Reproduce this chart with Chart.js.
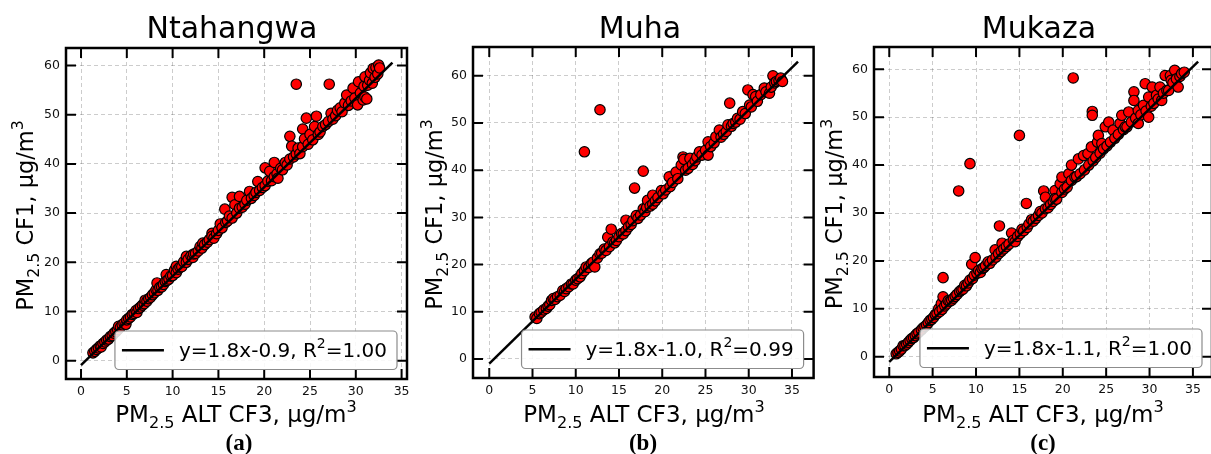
<!DOCTYPE html>
<html><head><meta charset="utf-8">
<script src="https://cdn.jsdelivr.net/npm/chart.js@4.4.1/dist/chart.umd.min.js"></script>
<style>
html,body{margin:0;padding:0;background:#fff;overflow:hidden;width:1211px;height:454px;position:relative;}
canvas{position:absolute;top:0;}
</style></head><body>
<canvas id="cA" width="420" height="454" style="left:0px"></canvas>
<canvas id="cB" width="400" height="454" style="left:420px"></canvas>
<canvas id="cC" width="410" height="454" style="left:820px"></canvas>
<script>
// ---------- data ----------
const siteNames = ['Ntahangwa', 'Muha', 'Mukaza'];
const panelLetters = ['(a)', '(b)', '(c)'];
const xTicks = [0, 5, 10, 15, 20, 25, 30, 35];
const yTicks = [0, 10, 20, 30, 40, 50, 60];
const fitEquations = ['y=1.8x-0.9', 'y=1.8x-1.0', 'y=1.8x-1.1'];
const fitR2 = ['1.00', '0.99', '1.00'];

const ntaPts = [[1.3,1.6],[1.5,1.9],[1.7,2.3],[1.9,2.6],[2.1,3.0],[2.2,2.8],[2.4,3.5],[2.6,3.8],[2.8,4.2],[3.0,4.4],[3.2,4.9],[3.4,5.1],[3.6,5.6],[3.8,5.9],[4.0,6.3],[4.1,7.0],[4.3,6.8],[4.5,7.3],[4.7,7.6],[4.9,7.4],[5.0,8.3],[5.2,8.6],[5.4,8.9],[5.6,9.4],[5.8,9.6],[6.0,10.2],[6.1,9.8],[6.3,10.6],[6.5,10.9],[6.7,11.3],[6.9,11.6],[7.0,12.3],[7.2,12.1],[7.4,12.6],[7.6,12.9],[7.8,13.4],[8.0,13.8],[8.2,14.4],[8.3,15.8],[8.4,14.3],[8.6,14.9],[8.8,15.0],[9.0,15.5],[9.2,16.1],[9.3,17.5],[9.4,16.3],[9.6,16.6],[9.8,17.2],[10.0,17.3],[10.2,18.4],[10.4,19.2],[10.4,17.9],[10.6,18.6],[10.8,19.0],[11.0,19.1],[11.2,20.1],[11.5,21.2],[11.5,20.0],[11.7,20.6],[12.0,21.3],[12.2,21.0],[12.3,21.7],[12.5,21.8],[12.8,22.3],[13.0,23.2],[13.2,22.9],[13.3,23.9],[13.5,23.6],[13.8,24.1],[14.0,24.6],[14.3,25.9],[14.3,25.3],[14.5,24.9],[14.8,25.8],[15.0,26.5],[15.2,27.8],[15.4,27.0],[15.7,30.8],[15.8,28.1],[16.0,28.4],[16.2,29.4],[16.5,33.2],[16.5,29.0],[16.8,31.7],[17.0,30.0],[17.3,33.4],[17.3,31.0],[17.6,31.2],[17.9,31.8],[18.1,32.6],[18.4,34.4],[18.6,33.0],[18.9,33.6],[19.1,34.2],[19.3,36.4],[19.5,34.6],[19.8,35.2],[20.1,39.2],[20.1,35.6],[20.4,36.5],[20.6,38.5],[20.8,36.6],[21.1,40.3],[21.1,37.4],[21.4,38.0],[21.5,37.1],[21.8,39.1],[22.0,38.8],[22.3,40.3],[22.5,39.8],[22.8,45.6],[22.8,41.0],[23.0,43.6],[23.2,41.4],[23.5,56.2],[23.5,42.0],[23.7,43.2],[23.9,42.1],[24.2,47.1],[24.2,43.5],[24.4,45.1],[24.6,49.3],[24.8,44.0],[25.0,46.0],[25.3,44.9],[25.5,47.6],[25.7,49.7],[25.9,46.0],[26.1,46.5],[26.4,47.6],[26.7,48.0],[27.0,48.6],[27.1,56.2],[27.3,50.3],[27.5,49.1],[27.8,49.8],[28.0,50.9],[28.3,51.4],[28.5,50.6],[28.8,52.4],[29.0,54.0],[29.2,51.9],[29.5,52.8],[29.7,55.4],[29.9,53.4],[30.2,52.0],[30.3,56.7],[30.5,54.4],[30.8,53.0],[30.9,55.8],[31.0,57.7],[31.0,53.6],[31.2,53.2],[31.3,56.0],[31.5,57.0],[31.6,58.5],[31.8,56.4],[31.9,59.4],[32.1,57.6],[32.2,59.6],[32.4,58.3],[32.5,60.1],[32.6,59.5]];

const muhaPts = [[5.3,8.9],[5.5,8.6],[5.8,9.6],[6.0,9.9],[6.3,10.4],[6.6,10.7],[6.8,11.2],[7.0,11.5],[7.2,12.4],[7.4,12.8],[7.6,12.6],[7.9,13.2],[8.2,13.5],[8.5,14.5],[8.7,14.3],[8.9,14.9],[9.2,15.3],[9.5,15.9],[9.7,15.9],[10.0,16.7],[10.2,17.0],[10.5,17.4],[10.7,18.1],[11.0,43.9],[11.0,18.7],[11.2,19.5],[11.5,19.4],[11.8,20.2],[12.0,20.5],[12.2,19.5],[12.5,21.4],[12.8,52.8],[12.8,22.3],[13.0,22.4],[13.3,23.3],[13.5,23.0],[13.7,25.8],[13.9,23.8],[14.1,27.5],[14.3,24.8],[14.5,24.6],[14.7,25.1],[15.0,25.9],[15.3,26.6],[15.5,26.5],[15.8,27.2],[15.8,29.4],[16.1,28.0],[16.4,28.5],[16.6,29.3],[16.8,36.2],[17.0,30.4],[17.2,29.8],[17.5,30.5],[17.8,39.8],[17.8,31.8],[18.0,31.2],[18.2,32.1],[18.3,33.6],[18.6,32.4],[18.9,34.7],[18.9,32.8],[19.2,33.5],[19.5,34.2],[19.9,35.7],[20.1,35.0],[20.4,35.8],[20.8,38.6],[20.9,36.5],[21.2,37.4],[21.6,39.6],[21.8,38.2],[22.2,41.1],[22.4,42.8],[22.5,42.3],[22.7,40.0],[23.0,40.4],[23.2,42.5],[23.5,41.2],[23.8,42.0],[24.0,42.8],[24.3,43.9],[24.6,43.2],[25.0,44.2],[25.3,46.0],[25.3,43.2],[25.6,45.0],[26.0,45.8],[26.2,47.1],[26.6,48.5],[26.8,47.0],[27.1,47.6],[27.4,48.2],[27.6,49.6],[27.8,54.2],[28.0,49.3],[28.2,49.9],[28.5,50.2],[28.7,51.0],[29.0,50.8],[29.3,52.4],[29.6,52.0],[29.9,57.0],[30.1,53.8],[30.3,53.4],[30.5,56.0],[30.8,55.6],[31.0,54.6],[31.4,56.0],[31.8,57.4],[32.0,56.6],[32.4,56.3],[32.6,57.6],[32.8,60.0],[33.0,58.5],[33.2,58.8],[33.5,59.0],[33.7,59.5],[33.9,58.8]];

const mukPts = [[0.8,0.6],[1.0,0.9],[1.2,1.2],[1.4,1.6],[1.6,2.3],[1.8,2.3],[2.0,2.6],[2.2,3.0],[2.4,3.4],[2.6,3.8],[2.8,4.0],[3.0,4.4],[3.2,4.8],[3.4,5.1],[3.7,5.6],[3.9,6.0],[4.1,6.3],[4.3,6.6],[4.5,7.1],[4.7,7.6],[4.9,7.8],[5.1,8.2],[5.3,8.8],[5.5,9.0],[5.7,10.0],[5.8,9.4],[6.0,11.1],[6.1,9.9],[6.2,12.5],[6.2,16.5],[6.4,10.6],[6.6,11.0],[6.8,11.7],[7.0,11.6],[7.2,11.8],[7.4,12.2],[7.6,12.6],[7.8,13.0],[8.0,34.6],[8.1,13.6],[8.3,13.9],[8.5,14.1],[8.7,14.9],[8.9,14.8],[9.1,15.4],[9.3,40.3],[9.3,16.0],[9.5,19.3],[9.6,16.3],[9.8,17.0],[9.9,20.7],[10.1,17.4],[10.3,18.0],[10.5,17.6],[10.7,18.4],[10.9,18.6],[11.1,19.0],[11.4,19.8],[11.6,19.5],[11.9,20.2],[12.2,22.3],[12.3,20.8],[12.6,21.5],[12.7,27.3],[12.9,22.0],[13.0,23.7],[13.2,22.5],[13.5,23.0],[13.8,23.5],[14.1,25.8],[14.3,24.3],[14.5,24.0],[14.8,25.1],[15.0,46.2],[15.1,25.7],[15.3,26.6],[15.5,26.3],[15.8,32.0],[15.9,27.0],[16.1,27.7],[16.4,28.6],[16.6,28.3],[16.9,28.9],[17.2,29.5],[17.4,30.3],[17.6,30.0],[17.8,34.6],[18.0,33.3],[18.0,30.9],[18.3,31.1],[18.6,31.8],[18.9,32.4],[19.1,34.7],[19.1,33.0],[19.3,32.9],[19.7,36.1],[19.9,37.5],[19.9,34.3],[20.2,35.0],[20.5,35.4],[20.7,38.2],[21.0,40.0],[21.0,36.8],[21.2,58.2],[21.4,37.5],[21.6,37.6],[21.8,41.3],[22.0,38.2],[22.4,42.0],[22.5,39.0],[22.9,42.4],[23.0,40.0],[23.3,43.8],[23.4,51.2],[23.4,50.4],[23.5,40.9],[23.8,41.6],[24.0,44.8],[24.1,46.2],[24.3,42.5],[24.5,44.5],[24.7,43.4],[24.9,48.0],[25.1,44.0],[25.3,49.0],[25.5,44.8],[25.8,47.3],[26.0,45.6],[26.4,46.4],[26.6,48.7],[26.8,50.4],[27.0,47.4],[27.2,48.0],[27.4,48.0],[27.6,51.1],[27.9,49.0],[28.2,55.3],[28.2,53.5],[28.4,49.8],[28.7,51.4],[28.7,48.7],[29.0,50.5],[29.3,52.5],[29.5,57.0],[29.6,51.3],[29.9,54.2],[29.9,50.0],[30.2,52.3],[30.3,56.3],[30.5,52.9],[30.8,54.6],[31.0,53.8],[31.2,56.3],[31.4,53.5],[31.6,55.0],[31.8,58.7],[32.0,55.6],[32.2,55.6],[32.4,58.7],[32.5,57.7],[32.7,57.2],[32.9,59.8],[33.1,58.0],[33.3,56.3],[33.5,58.5],[33.7,59.1],[34.0,59.4]];

const ntaLine = [[0, -0.9], [34.0, 60.6]];
const muhaLine = [[0, -1.0], [35.7, 63.0]];
const mukLine = [[0, -1.1], [35.6, 61.6]];

// ---------- drawing ----------
const FONT = '"DejaVu Sans", sans-serif';
function richWidth(ctx, parts, size) {
  let w = 0;
  for (const p of parts) { ctx.font = (p.k === 'n' ? size : size * 0.7) + 'px ' + FONT; w += ctx.measureText(p.t).width; }
  return w;
}
function drawRich(ctx, parts, x, y, size, align) {
  const w = richWidth(ctx, parts, size);
  let cx = align === 'center' ? x - w / 2 : x;
  ctx.textAlign = 'left'; ctx.textBaseline = 'alphabetic';
  for (const p of parts) {
    const s = p.k === 'n' ? size : size * 0.7;
    const dy = p.k === 'sub' ? size * 0.27 : (p.k === 'sup' ? -size * 0.43 : 0);
    ctx.font = s + 'px ' + FONT;
    ctx.fillText(p.t, cx, y + dy);
    cx += ctx.measureText(p.t).width;
  }
  return w;
}
const xLabelParts = [{t:'PM',k:'n'},{t:'2.5',k:'sub'},{t:' ALT CF3, µg/m',k:'n'},{t:'3',k:'sup'}];
const yLabelParts = [{t:'PM',k:'n'},{t:'2.5',k:'sub'},{t:' CF1, µg/m',k:'n'},{t:'3',k:'sup'}];

function makePanel(canvasId, idx, pts, linePts, g) {
  const TL = 10;
  const deco = {
    id: 'deco' + idx,
    afterDraw(chart) {
      const ctx = chart.ctx, a = chart.chartArea, xs = chart.scales.x, ys = chart.scales.y;
      ctx.save();
      // inward ticks on all four sides
      ctx.strokeStyle = '#000'; ctx.lineWidth = 2; ctx.lineCap = 'butt';
      ctx.beginPath();
      for (const v of xTicks) {
        const px = xs.getPixelForValue(v);
        ctx.moveTo(px, a.top); ctx.lineTo(px, a.top + TL);
        ctx.moveTo(px, a.bottom); ctx.lineTo(px, a.bottom - TL);
      }
      for (const v of yTicks) {
        const py = ys.getPixelForValue(v);
        ctx.moveTo(a.left, py); ctx.lineTo(a.left + TL, py);
        ctx.moveTo(a.right, py); ctx.lineTo(a.right - TL, py);
      }
      ctx.stroke();
      // frame
      ctx.lineWidth = 2.5;
      ctx.strokeRect(a.left, a.top, a.right - a.left, a.bottom - a.top);
      // legend
      const lparts = [{t: fitEquations[idx] + ', R', k:'n'}, {t:'2', k:'sup'}, {t:'=' + fitR2[idx], k:'n'}];
      const tw = richWidth(ctx, lparts, 20);
      const bw = 7 + 42 + 15 + tw + 10, bh = 38.5;
      const bx = a.right - 10 - bw, by = a.bottom - 9.5 - bh;
      ctx.beginPath();
      ctx.roundRect(bx, by, bw, bh, 4);
      ctx.fillStyle = 'rgba(255,255,255,0.85)'; ctx.fill();
      ctx.strokeStyle = '#8c8c8c'; ctx.lineWidth = 1.2; ctx.stroke();
      ctx.beginPath(); ctx.strokeStyle = '#000'; ctx.lineWidth = 2.5;
      const ly = by + bh / 2;
      ctx.moveTo(bx + 7, ly); ctx.lineTo(bx + 49, ly); ctx.stroke();
      ctx.fillStyle = '#000';
      drawRich(ctx, lparts, bx + 64, ly + 6.5, 20, 'left');
      // panel title
      ctx.font = '30px ' + FONT; ctx.textAlign = 'center'; ctx.textBaseline = 'alphabetic';
      ctx.fillText(siteNames[idx], g.titleX, 38);
      // x axis title
      drawRich(ctx, xLabelParts, g.xTitleX, 422, 23, 'center');
      // y axis title
      ctx.save();
      ctx.translate(g.yTitleX, (a.top + a.bottom) / 2 + 2);
      ctx.rotate(-Math.PI / 2);
      drawRich(ctx, yLabelParts, 0, 0, 22.5, 'center');
      ctx.restore();
      // caption
      ctx.font = 'bold 23px "Liberation Serif", serif'; ctx.textAlign = 'center';
      ctx.fillText(panelLetters[idx], g.capX, 450);
      ctx.restore();
    }
  };
  const tickFont = {family: 'DejaVu Sans', size: 12.5};
  return new Chart(document.getElementById(canvasId), {
    type: 'scatter',
    data: {
      datasets: [
        { type: 'line', data: linePts.map(p => ({x: p[0], y: p[1]})), borderColor: '#000', borderWidth: 2.5,
          pointRadius: 0, fill: false, tension: 0, order: 0 },
        { data: pts.map(p => ({x: p[0], y: p[1]})), backgroundColor: '#ff0000', borderColor: '#000',
          borderWidth: 1.2, pointRadius: 5.2, order: 1 }
      ]
    },
    options: {
      responsive: false, animation: false, devicePixelRatio: 1, events: [],
      layout: { padding: { left: g.L - 40, top: g.T, right: g.W - g.R, bottom: 454 - g.B - 30 } },
      plugins: { legend: { display: false }, tooltip: { enabled: false }, title: { display: false } },
      scales: {
        x: { type: 'linear', position: 'bottom', min: g.xMin, max: g.xMax,
             afterBuildTicks: s => { s.ticks = xTicks.map(v => ({value: v})); },
             afterFit: s => { s.height = 30; },
             ticks: { padding: 5, color: '#111', font: tickFont, maxRotation: 0, autoSkip: false },
             grid: { color: 'rgba(0,0,0,0.2)', lineWidth: 1, drawTicks: false },
             border: { display: false, dash: [4, 3] } },
        y: { type: 'linear', position: 'left', min: g.yMin, max: g.yMax,
             afterBuildTicks: s => { s.ticks = yTicks.map(v => ({value: v})); },
             afterFit: s => { s.width = 40; },
             ticks: { padding: 6, color: '#111', font: tickFont, autoSkip: false },
             grid: { color: 'rgba(0,0,0,0.2)', lineWidth: 1, drawTicks: false },
             border: { display: false, dash: [4, 3] } }
      }
    },
    plugins: [deco]
  });
}

makePanel('cA', 0, ntaPts, ntaLine,
  {W: 420, L: 66, T: 48, R: 407, B: 379, xMin: -1.64, xMax: 35.59, yMin: -3.72, yMax: 63.56,
   titleX: 232, xTitleX: 236, yTitleX: 33, capX: 239});
makePanel('cB', 1, muhaPts, muhaLine,
  {W: 400, L: 53, T: 47, R: 395, B: 378, xMin: -1.88, xMax: 37.5, yMin: -4.03, yMax: 66.1,
   titleX: 220, xTitleX: 224, yTitleX: 22, capX: 223});
makePanel('cC', 2, mukPts, mukLine,
  {W: 410, L: 54, T: 47, R: 392, B: 377, xMin: -1.76, xMax: 37.2, yMin: -4.24, yMax: 64.66,
   titleX: 219, xTitleX: 223, yTitleX: 22, capX: 223});
</script>
</body></html>
